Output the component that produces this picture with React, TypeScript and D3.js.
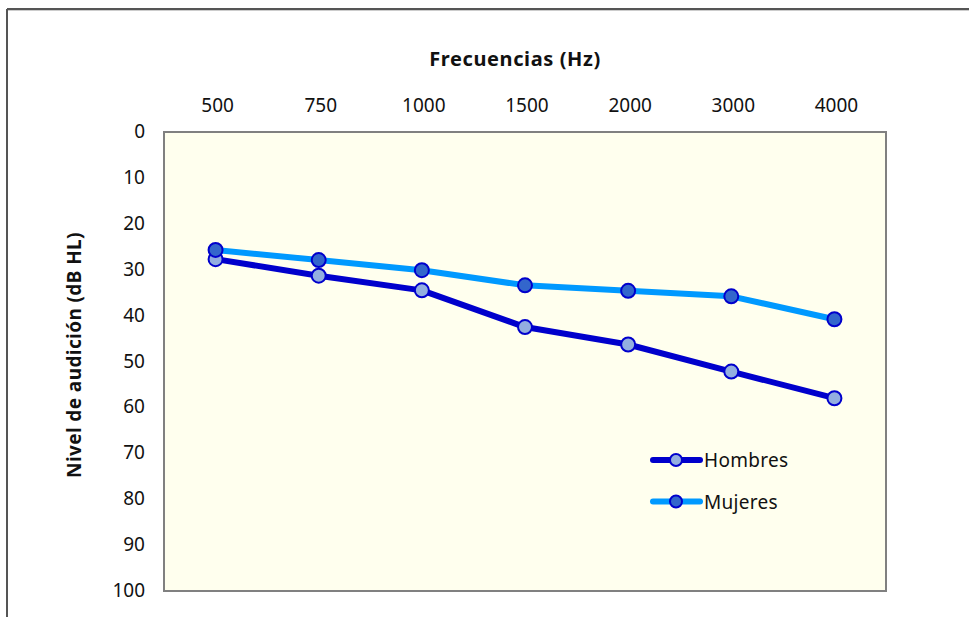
import React from "react";
import * as d3 from "d3";

const frequencies = ["500", "750", "1000", "1500", "2000", "3000", "4000"];
const hombres = [27.7, 31.3, 34.5, 42.5, 46.3, 52.2, 58.0];
const mujeres = [25.7, 27.9, 30.1, 33.4, 34.6, 35.8, 40.8];
const yTicks = [0, 10, 20, 30, 40, 50, 60, 70, 80, 90, 100];

const W = 969;
const H = 617;
const plot = { left: 164, top: 132, right: 886, bottom: 591 };
const FONT = "'Noto Sans', sans-serif";

const series = [
  { name: "Hombres", values: hombres, line: "#0000CC", fill: "#93AEE0", stroke: "#0000CC" },
  { name: "Mujeres", values: mujeres, line: "#0099FF", fill: "#3366CC", stroke: "#0000CC" },
];

export default function App() {
  const x = d3.scaleBand<string>().domain(frequencies).range([plot.left, plot.right]);
  const y = d3.scaleLinear().domain([0, 100]).range([plot.top, plot.bottom]);
  const cx = (f: string) => (x(f) as number) + x.bandwidth() / 2;
  const line = d3
    .line<number>()
    .x((_, i) => cx(frequencies[i]))
    .y((v) => y(v));

  return (
    <svg
      width={W}
      height={H}
      style={{ position: "absolute", left: 0, top: 0, background: "#fff" }}
      fontFamily={FONT}
    >
      {/* outer frame */}
      <line x1={7} y1={9} x2={W} y2={9} stroke="#555" strokeWidth={2} />
      <line x1={7} y1={9} x2={7} y2={H} stroke="#555" strokeWidth={2} />
      <line x1={8} y1={10.5} x2={W} y2={10.5} stroke="#ccc" strokeWidth={1} />

      {/* plot area */}
      <rect
        x={plot.left}
        y={plot.top}
        width={plot.right - plot.left}
        height={plot.bottom - plot.top}
        fill="#FFFFEE"
        stroke="#808080"
        strokeWidth={2}
      />

      {/* x axis title and labels (top) */}
      <text x={515} y={66} textAnchor="middle" fontWeight="bold" fontSize={20} letterSpacing={0.6} fill="#111">
        Frecuencias (Hz)
      </text>
      {frequencies.map((f) => (
        <text key={f} x={cx(f) + 2} y={112} textAnchor="middle" fontSize={19} fill="#111">
          {f}
        </text>
      ))}

      {/* y axis labels */}
      {yTicks.map((t) => (
        <text key={t} x={145} y={y(t) + 6} textAnchor="end" fontSize={19} fill="#111">
          {t}
        </text>
      ))}
      <text
        transform={`translate(81,355) rotate(-90)`}
        textAnchor="middle"
        fontWeight="bold"
        fontSize={19}
        letterSpacing={0.4}
        fill="#111"
      >
        Nivel de audición (dB HL)
      </text>

      {/* series */}
      {series.map((s) => (
        <g key={s.name}>
          <path d={line(s.values) || ""} fill="none" stroke={s.line} strokeWidth={6} strokeLinejoin="round" />
          {s.values.map((v, i) => (
            <circle key={i} cx={cx(frequencies[i])} cy={y(v)} r={7} fill={s.fill} stroke={s.stroke} strokeWidth={2} />
          ))}
        </g>
      ))}

      {/* legend */}
      {series.map((s, i) => {
        const ly = 460 + i * 41.5;
        return (
          <g key={s.name}>
            <line x1={653} x2={700} y1={ly} y2={ly} stroke={s.line} strokeWidth={6} strokeLinecap="round" />
            <circle cx={676} cy={ly} r={6} fill={s.fill} stroke={s.stroke} strokeWidth={2} />
            <text x={704} y={ly + 7} fontSize={19} letterSpacing={0.3} fill="#111">
              {s.name}
            </text>
          </g>
        );
      })}
    </svg>
  );
}
